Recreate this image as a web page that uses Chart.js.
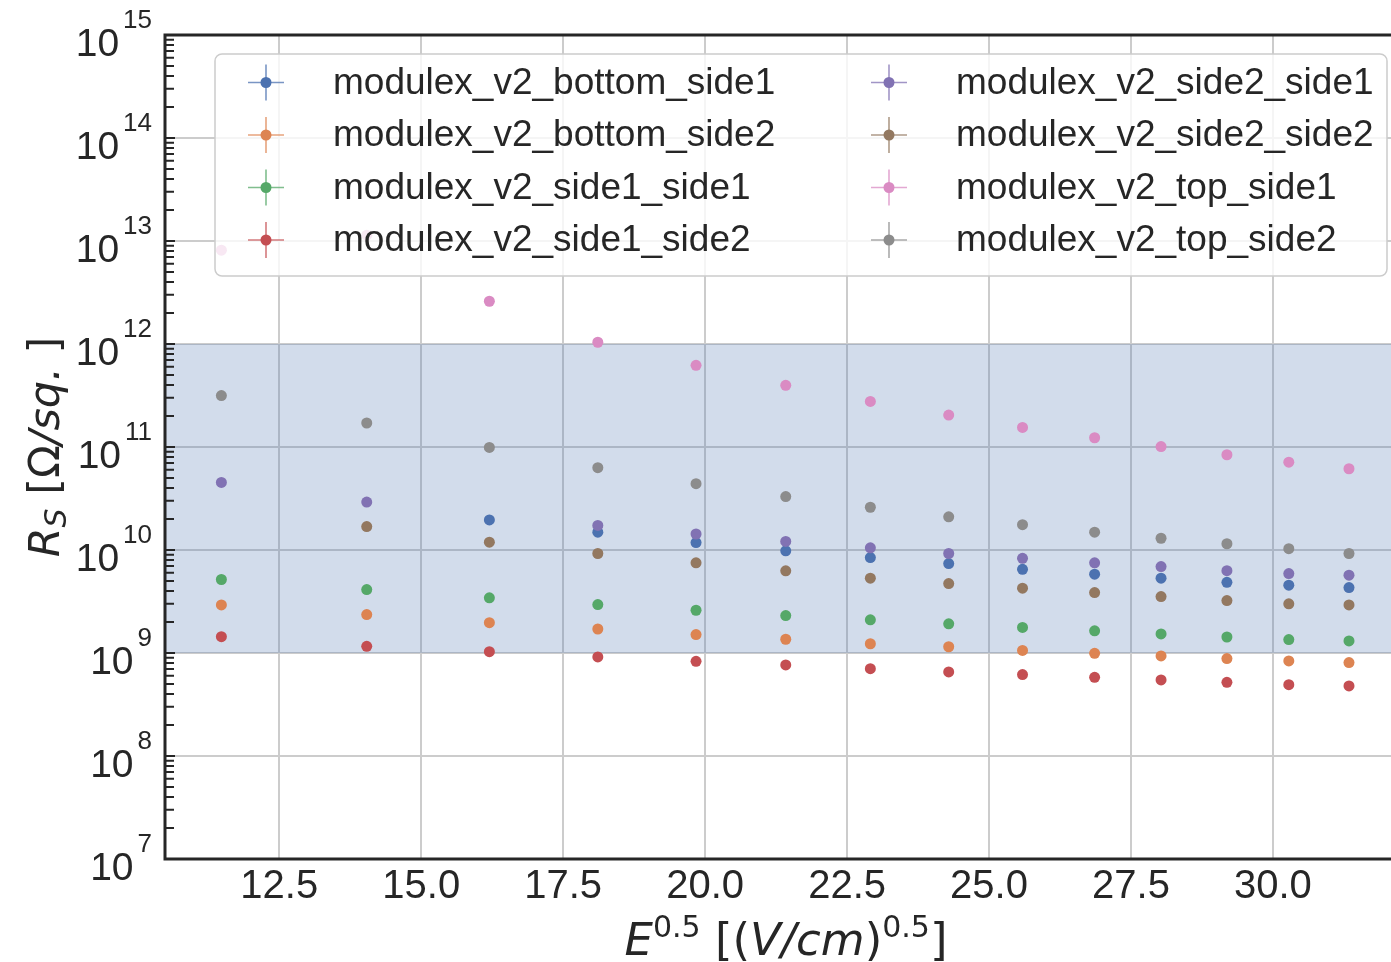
<!DOCTYPE html>
<html>
<head>
<meta charset="utf-8">
<script src="https://cdn.jsdelivr.net/npm/chart.js@4.4.1/dist/chart.umd.min.js"></script>
<style>
  html, body { margin: 0; padding: 0; background: #fff; }
  canvas { display: block; }
</style>
</head>
<body>
<canvas id="rsGrafiek" width="1391" height="962"></canvas>
<script>
// meetpunten: E^0.5 per kolom
const xValues = [11.48, 14.04, 16.20, 18.11, 19.84, 21.42, 22.91, 24.29, 25.59, 26.86, 28.03, 29.19, 30.28, 31.34];

// R_S per sample (null = geen punt)
const bottomSide1 = [null, null, 1.96e10, 1.49e10, 1.18e10, 9.82e9, 8.45e9, 7.39e9, 6.50e9, 5.82e9, 5.32e9, 4.86e9, 4.55e9, 4.32e9];
const bottomSide2 = [2.93e9, 2.36e9, 1.97e9, 1.71e9, 1.51e9, 1.36e9, 1.23e9, 1.15e9, 1.06e9, 9.93e8, 9.37e8, 8.83e8, 8.38e8, 8.07e8];
const side1Side1  = [5.17e9, 4.13e9, 3.43e9, 2.95e9, 2.60e9, 2.31e9, 2.10e9, 1.92e9, 1.77e9, 1.64e9, 1.53e9, 1.43e9, 1.35e9, 1.31e9];
const side1Side2  = [1.44e9, 1.16e9, 1.03e9, 9.16e8, 8.30e8, 7.66e8, 7.05e8, 6.55e8, 6.17e8, 5.81e8, 5.48e8, 5.19e8, 4.93e8, 4.79e8];
const side2Side1  = [4.53e10, 2.92e10, null, 1.73e10, 1.43e10, 1.21e10, 1.05e10, 9.25e9, 8.3e9, 7.5e9, 6.9e9, 6.3e9, 5.9e9, 5.7e9];
const side2Side2  = [null, 1.69e10, 1.19e10, 9.25e9, 7.5e9, 6.28e9, 5.32e9, 4.72e9, 4.26e9, 3.86e9, 3.53e9, 3.23e9, 3.00e9, 2.93e9];
const topSide1    = [8.15e12, 1.14e13, 2.60e12, 1.04e12, 6.21e11, 3.97e11, 2.77e11, 2.04e11, 1.55e11, 1.23e11, 1.01e11, 8.41e10, 7.13e10, 6.15e10];
const topSide2    = [3.16e11, 1.71e11, 9.9e10, 6.3e10, 4.4e10, 3.3e10, 2.6e10, 2.1e10, 1.76e10, 1.49e10, 1.30e10, 1.15e10, 1.03e10, 9.25e9];

const seriesNames = [
    "modulex_v2_bottom_side1", "modulex_v2_bottom_side2", "modulex_v2_side1_side1", "modulex_v2_side1_side2",
    "modulex_v2_side2_side1", "modulex_v2_side2_side2", "modulex_v2_top_side1", "modulex_v2_top_side2"
];
const seriesValues = [bottomSide1, bottomSide2, side1Side1, side1Side2, side2Side1, side2Side2, topSide1, topSide2];
const seriesColors = ["#4C72B0", "#DD8452", "#55A868", "#C44E52", "#8172B3", "#937860", "#DA8BC3", "#8C8C8C"];

// assen
const xTicks = [12.5, 15.0, 17.5, 20.0, 22.5, 25.0, 27.5, 30.0];
const xRange = [10.487, 32.08];
const yDecades = [7, 8, 9, 10, 11, 12, 13, 14, 15];
const yMinorSteps = [2, 3, 4, 5, 6, 7, 8, 9];
const bandRange = [1e9, 1e12];

const INK = "#262626";
const SANS = "'Liberation Sans', Arial, sans-serif";
const MATH = "'DejaVu Sans', sans-serif";

// tekst met super/subscript stukjes naast elkaar tekenen
function drawParts(ctx, parts, cx, baseY) {
    let total = 0;
    parts.forEach(p => { ctx.font = p.font; p.w = ctx.measureText(p.t).width; total += p.w; });
    let x = cx - total / 2;
    ctx.textAlign = "left";
    ctx.textBaseline = "alphabetic";
    parts.forEach(p => {
        ctx.font = p.font;
        ctx.fillText(p.t, x, baseY + (p.dy || 0));
        x += p.w;
    });
}

// blauwe zone achter de punten
const bandPlugin = {
    id: "band",
    beforeDatasetsDraw(chart) {
        const { ctx, chartArea: a, scales: { y } } = chart;
        const top = y.getPixelForValue(bandRange[1]);
        const bot = y.getPixelForValue(bandRange[0]);
        ctx.save();
        ctx.fillStyle = "rgba(76,114,176,0.25)";
        ctx.fillRect(a.left, top, a.right - a.left, bot - top);
        ctx.restore();
    }
};

// legende in de grafiek, twee kolommen
const legendPlugin = {
    id: "boxLegend",
    afterDatasetsDraw(chart) {
        const ctx = chart.ctx;
        ctx.save();
        ctx.beginPath();
        ctx.roundRect(215, 54, 1172, 222, 7);
        ctx.fillStyle = "rgba(255,255,255,0.8)";
        ctx.fill();
        ctx.strokeStyle = "#cccccc";
        ctx.lineWidth = 1.5;
        ctx.stroke();

        seriesNames.forEach((name, i) => {
            const mx = i < 4 ? 266 : 889;
            const my = 82.5 + (i % 4) * 52.5;
            ctx.strokeStyle = seriesColors[i];
            ctx.globalAlpha = 0.75;
            ctx.lineWidth = 1.6;
            ctx.beginPath();
            ctx.moveTo(mx - 18, my); ctx.lineTo(mx + 18, my);
            ctx.moveTo(mx, my - 18); ctx.lineTo(mx, my + 18);
            ctx.stroke();
            ctx.globalAlpha = 1;
            ctx.fillStyle = seriesColors[i];
            ctx.beginPath();
            ctx.arc(mx, my, 5.5, 0, Math.PI * 2);
            ctx.fill();

            ctx.fillStyle = INK;
            ctx.font = "37px " + SANS;
            ctx.textAlign = "left";
            ctx.textBaseline = "middle";
            ctx.fillText(name, mx + 67, my + 1);
        });
        ctx.restore();
    }
};

// assen, tickjes en labels zoals matplotlib
const axesPlugin = {
    id: "mplAxes",
    afterDraw(chart) {
        const { ctx, chartArea: a, scales: { x, y } } = chart;
        ctx.save();
        ctx.strokeStyle = INK;
        ctx.fillStyle = INK;

        // tickjes naar binnen op de y-as
        ctx.lineWidth = 2;
        ctx.beginPath();
        yDecades.forEach(p => {
            const yp = y.getPixelForValue(Math.pow(10, p));
            ctx.moveTo(a.left, yp); ctx.lineTo(a.left + 10, yp);
            if (p < 15) {
                yMinorSteps.forEach(k => {
                    const ym = y.getPixelForValue(k * Math.pow(10, p));
                    ctx.moveTo(a.left, ym); ctx.lineTo(a.left + 9, ym);
                });
            }
        });
        ctx.stroke();

        // spines
        ctx.lineWidth = 3;
        ctx.beginPath();
        ctx.moveTo(a.left, a.top); ctx.lineTo(a.right, a.top);
        ctx.moveTo(a.left, a.top - 1.5); ctx.lineTo(a.left, a.bottom + 1.5);
        ctx.moveTo(a.left, a.bottom); ctx.lineTo(a.right, a.bottom);
        ctx.stroke();

        // y labels 10^n
        yDecades.forEach(p => {
            const yp = y.getPixelForValue(Math.pow(10, p));
            ctx.textAlign = "right";
            ctx.textBaseline = "alphabetic";
            ctx.font = "26px " + SANS;
            const expW = ctx.measureText(String(p)).width;
            ctx.fillText(String(p), 152, yp - 7);
            ctx.font = "39px " + SANS;
            ctx.fillText("10", 152 - expW - 4, yp + 21);
        });

        // x labels
        ctx.font = "40px " + SANS;
        ctx.textAlign = "center";
        ctx.textBaseline = "alphabetic";
        xTicks.forEach(v => ctx.fillText(v.toFixed(1), x.getPixelForValue(v), 898));

        // as-titels
        const big = "45px " + MATH, bigIt = "italic 45px " + MATH, sup = "30px " + MATH;
        drawParts(ctx, [
            { t: "E", font: bigIt },
            { t: "0.5", font: sup, dy: -18 },
            { t: " [(", font: big },
            { t: "V/cm", font: bigIt },
            { t: ")", font: big },
            { t: "0.5", font: sup, dy: -18 },
            { t: "]", font: big }
        ], 786, 955);

        ctx.translate(59, (a.top + a.bottom) / 2);
        ctx.rotate(-Math.PI / 2);
        const yBig = "43px " + MATH, yBigIt = "italic 43px " + MATH;
        drawParts(ctx, [
            { t: "R", font: yBigIt },
            { t: "S", font: "italic 30px " + MATH, dy: 7 },
            { t: " [", font: yBig },
            { t: "Ω", font: yBig },
            { t: "/sq.", font: yBigIt },
            { t: " ]", font: yBig }
        ], 0, 0);
        ctx.restore();
    }
};

const datasets = seriesValues.map((vals, i) => ({
    label: seriesNames[i],
    data: xValues.map((xv, j) => ({ x: xv, y: vals[j] })).filter(p => p.y !== null),
    backgroundColor: seriesColors[i],
    borderColor: seriesColors[i],
    pointRadius: 5.5,
    pointBorderWidth: 0,
    showLine: false,
    order: seriesValues.length - i
}));

new Chart(document.getElementById("rsGrafiek").getContext("2d"), {
    type: "scatter",
    data: { datasets },
    options: {
        responsive: false,
        animation: false,
        devicePixelRatio: 1,
        layout: { autoPadding: false, padding: { top: 35, left: 0, right: 0, bottom: 0 } },
        plugins: { legend: { display: false }, tooltip: { enabled: false } },
        scales: {
            x: {
                type: "linear",
                min: xRange[0],
                max: xRange[1],
                afterBuildTicks: s => { s.ticks = xTicks.map(v => ({ value: v })); },
                afterFit: s => { s.height = 103; },
                ticks: { display: false },
                border: { display: false },
                grid: { color: "#cccccc", lineWidth: 2, drawTicks: false }
            },
            y: {
                type: "logarithmic",
                min: 1e7,
                max: 1e15,
                afterBuildTicks: s => { s.ticks = yDecades.map(p => ({ value: Math.pow(10, p) })); },
                afterFit: s => { s.width = 165; },
                ticks: { display: false },
                border: { display: false },
                grid: { color: "#cccccc", lineWidth: 2, drawTicks: false }
            }
        }
    },
    plugins: [bandPlugin, legendPlugin, axesPlugin]
});
</script>
</body>
</html>
